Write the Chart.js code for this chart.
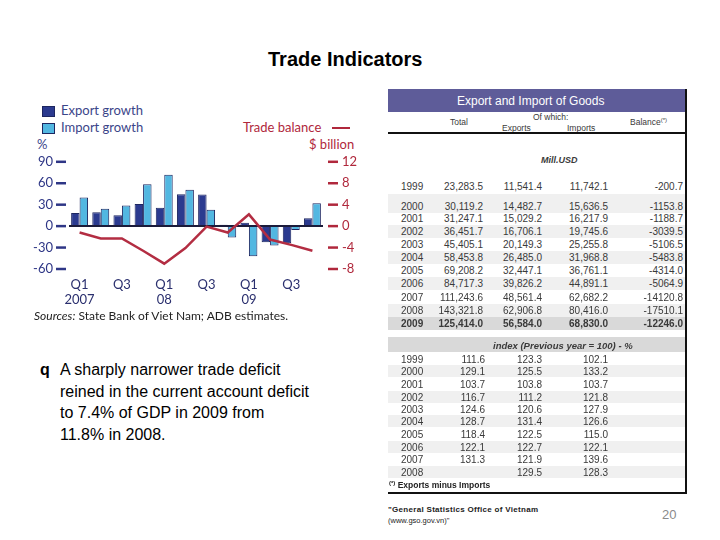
<!DOCTYPE html>
<html>
<head>
<meta charset="utf-8">
<script src="https://cdn.jsdelivr.net/npm/chart.js@4.4.0/dist/chart.umd.min.js"></script>
<style>
    body { margin: 0; background: #fff; }
    #page { position: relative; width: 720px; height: 540px; overflow: hidden; font-family: "Liberation Sans", Arial, sans-serif; }
    .abs { position: absolute; white-space: nowrap; }
    .lg { font-family: Lato, sans-serif; font-size: 13px; color: #3b4589; }
    .sq { position: absolute; width: 11px; height: 9px; border: 1px solid #1d2660; }
    #chartBox { position: absolute; left: 20px; top: 135px; width: 360px; height: 175px; }
    #tbl { position: absolute; left: 388px; top: 89px; width: 297px; height: 403px; border-right: 2px solid #111; border-bottom: 2px solid #111; font-size: 10px; color: #3a3a3a; }
    .cell { position: absolute; white-space: nowrap; transform: translateY(-50%); }
    .band { position: absolute; left: 0; width: 297px; }
</style>
</head>
<body>
<div id="page">
    <div class="abs" style="left:268px; top:48px; font-size:20px; font-weight:bold; color:#000;">Trade Indicators</div>

    <!-- légende du graphique -->
    <div class="sq" style="left:42px; top:106px; background:#2b3a8f;"></div>
    <div class="abs lg" style="left:61px; top:102px;">Export growth</div>
    <div class="sq" style="left:42px; top:123px; background:#52b7e1;"></div>
    <div class="abs lg" style="left:61px; top:119px;">Import growth</div>
    <div class="abs lg" style="left:243px; top:119px; color:#b0283c;">Trade balance</div>
    <div class="abs" style="left:332px; top:127px; width:18px; height:2px; background:#b0283c;"></div>
    <div class="abs lg" style="left:37px; top:136px;">%</div>
    <div class="abs lg" style="left:309px; top:136px; color:#b0283c;">$ billion</div>

    <div id="chartBox"><canvas id="tradeChart"></canvas></div>

    <div class="abs" style="left:34px; top:308px; font-family:Lato, sans-serif; font-size:12px; color:#222;"><i>Sources:</i> State Bank of Viet Nam; ADB estimates.</div>

    <div class="abs" style="left:40px; top:359px; font-size:16px; line-height:21.5px; color:#000;">
        <span style="position:absolute; left:0; top:0; font-weight:bold;">q</span>
        <div style="margin-left:20px;">A sharply narrower trade deficit<br>reined in the current account deficit<br>to 7.4% of GDP in 2009 from<br>11.8% in 2008.</div>
    </div>

    <div id="tbl"></div>

    <div class="abs" style="left:388px; top:505px; font-size:8px; font-weight:bold; color:#222; letter-spacing:0.3px;">"General Statistics Office of Vietnam</div>
    <div class="abs" style="left:388px; top:516px; font-size:7.5px; color:#222;">(www.gso.gov.vn)"</div>
    <div class="abs" style="left:662px; top:507px; font-size:13px; color:#8a8a8a;">20</div>
</div>

<script>
// Données du graphique (trimestres 2007-2009)
const quarters = [['Q1', '2007'], ['', ''], ['Q3', ''], ['', ''], ['Q1', '08'], ['', ''], ['Q3', ''], ['', ''], ['Q1', '09'], ['', ''], ['Q3', ''], ['', '']];
const exportGrowth = [18.4, 19.4, 15.2, 31, 25.8, 44.7, 44.2, 1.8, 4.6, -22.6, -24, 11];
const importGrowth = [40, 24.4, 29, 58.5, 72, 51, 23, -16, -42, -27, -5.5, 32];
const tradeBalance = [-1.2, -2.3, -2.3, -4.6, -7.0, -4.1, -0.1, -1.2, 2.2, -2.5, -3.5, -4.6];
const leftTicks = [-60, -30, 0, 30, 60, 90];
const rightTicks = [-8, -4, 0, 4, 8, 12];

// Données du tableau (Export and Import of Goods)
const tableYears = ['1999', '2000', '2001', '2002', '2003', '2004', '2005', '2006', '2007', '2008', '2009'];
const tableTotal = ['23,283.5', '30,119.2', '31,247.1', '36,451.7', '45,405.1', '58,453.8', '69,208.2', '84,717.3', '111,243.6', '143,321.8', '125,414.0'];
const tableExports = ['11,541.4', '14,482.7', '15,029.2', '16,706.1', '20,149.3', '26,485.0', '32,447.1', '39,826.2', '48,561.4', '62,906.8', '56,584.0'];
const tableImports = ['11,742.1', '15,636.5', '16,217.9', '19,745.6', '25,255.8', '31,968.8', '36,761.1', '44,891.1', '62,682.2', '80,416.0', '68,830.0'];
const tableBalance = ['-200.7', '-1153.8', '-1188.7', '-3039.5', '-5106.5', '-5483.8', '-4314.0', '-5064.9', '-14120.8', '-17510.1', '-12246.0'];
const indexYears = ['1999', '2000', '2001', '2002', '2003', '2004', '2005', '2006', '2007', '2008'];
const indexTotal = ['111.6', '129.1', '103.7', '116.7', '124.6', '128.7', '118.4', '122.1', '131.3', ''];
const indexExports = ['123.3', '125.5', '103.8', '111.2', '120.6', '131.4', '122.5', '122.7', '121.9', '129.5'];
const indexImports = ['102.1', '133.2', '103.7', '121.8', '127.9', '126.6', '115.0', '122.1', '139.6', '128.3'];

const navy = '#2e3686';
const red = '#b0283c';

// Petits traits à côté des graduations
const tickDashes = {
    id: 'tickDashes',
    afterDraw(chart) {
        const c = chart.ctx;
        const area = chart.chartArea;
        c.save();
        c.lineWidth = 2.5;
        c.strokeStyle = navy;
        leftTicks.forEach(v => {
            const y = chart.scales.y.getPixelForValue(v);
            c.beginPath(); c.moveTo(area.left - 13, y); c.lineTo(area.left - 3, y); c.stroke();
        });
        c.strokeStyle = red;
        rightTicks.forEach(v => {
            const y = chart.scales.y1.getPixelForValue(v);
            c.beginPath(); c.moveTo(area.right + 5, y); c.lineTo(area.right + 15, y); c.stroke();
        });
        c.restore();
    }
};

Chart.defaults.font.family = 'Lato, sans-serif';

const ctx = document.getElementById('tradeChart').getContext('2d');
new Chart(ctx, {
    type: 'bar',
    data: {
        labels: quarters,
        datasets: [
            {
                label: 'Trade balance',
                type: 'line',
                data: tradeBalance,
                yAxisID: 'y1',
                borderColor: '#b32d42',
                borderWidth: 2.5,
                pointRadius: 0,
                tension: 0,
                order: 0
            },
            {
                label: 'Export growth',
                data: exportGrowth,
                yAxisID: 'y',
                backgroundColor: '#2b3a8f',
                borderColor: '#1d2660',
                borderWidth: 1,
                categoryPercentage: 0.8,
                barPercentage: 1.0,
                order: 1
            },
            {
                label: 'Import growth',
                data: importGrowth,
                yAxisID: 'y',
                backgroundColor: '#52b7e1',
                borderColor: '#1d2660',
                borderWidth: 1,
                categoryPercentage: 0.8,
                barPercentage: 1.0,
                order: 1
            }
        ]
    },
    options: {
        responsive: true,
        maintainAspectRatio: false,
        animation: false,
        layout: { padding: { top: 0, left: 0, right: 0, bottom: 0 } },
        plugins: {
            legend: { display: false },
            tooltip: { enabled: false }
        },
        scales: {
            x: {
                grid: { display: false, drawTicks: false },
                border: { display: false },
                ticks: {
                    color: '#2a2f6e',
                    font: { size: 13, lineHeight: 1.15 },
                    padding: 8,
                    maxRotation: 0,
                    autoSkip: false
                },
                afterFit: s => { s.height = 41; }
            },
            y: {
                position: 'left',
                min: -60,
                max: 90,
                afterBuildTicks: s => { s.ticks = leftTicks.map(v => ({ value: v })); },
                grid: {
                    drawTicks: false,
                    color: c => (c.tick && c.tick.value === 0) ? '#1b1b3a' : 'rgba(0,0,0,0)',
                    lineWidth: 2
                },
                border: { display: false },
                ticks: { color: navy, font: { size: 13 }, padding: 16 },
                afterFit: s => { s.width = 49; }
            },
            y1: {
                position: 'right',
                min: -8,
                max: 12,
                afterBuildTicks: s => { s.ticks = rightTicks.map(v => ({ value: v })); },
                grid: { display: false, drawTicks: false },
                border: { display: false },
                ticks: { color: red, font: { size: 13 }, padding: 19 },
                afterFit: s => { s.width = 57; }
            }
        }
    },
    plugins: [tickDashes]
});

// Construction du tableau à droite
const tbl = document.getElementById('tbl');
function addEl(cls, style, text) {
    const d = document.createElement('div');
    d.className = cls;
    d.style.cssText = style;
    d.textContent = text;
    tbl.appendChild(d);
    return d;
}
function cellRight(rightX, y, text, extra) {
    addEl('cell', 'right:' + (297 - rightX) + 'px; top:' + y + 'px;' + (extra || ''), text);
}
function cellLeft(x, y, text, extra) {
    addEl('cell', 'left:' + x + 'px; top:' + y + 'px;' + (extra || ''), text);
}

// en-tête
addEl('band', 'top:0; height:23px; background:#5e5c99;', '');
cellLeft(69, 12, 'Export and Import of Goods', 'color:#fff; font-size:12px;');
cellLeft(62, 33, 'Total', 'font-size:8.5px;');
cellLeft(145, 28, 'Of which:', 'font-size:8.5px;');
cellLeft(114, 39, 'Exports', 'font-size:8.5px;');
cellLeft(179, 39, 'Imports', 'font-size:8.5px;');
addEl('cell', 'left:242px; top:33px; font-size:8.5px;', '').innerHTML = 'Balance<sup style="font-size:6px">(*)</sup>';
addEl('band', 'top:43px; height:2px; background:#111;', '');
cellLeft(153, 71, 'Mill.USD', 'font-size:9px; font-weight:bold; font-style:italic;');

// valeurs en millions USD
const rowY = [186, 206, 218, 231, 244, 257, 270, 283, 297, 310, 323];
tableYears.forEach((yr, i) => {
    const y = rowY[i] - 89;
    if (i === 10) addEl('band', 'top:' + (y - 6) + 'px; height:13px; background:#d9d9d9;', '');
    else if (i === 1) addEl('band', 'top:' + (y - 12) + 'px; height:19px; background:#f0f0f0;', '');
    else if (i % 2 === 1) addEl('band', 'top:' + (y - 6) + 'px; height:13px; background:#f0f0f0;', '');
    const w = i === 10 ? 'font-weight:bold;' : '';
    cellLeft(13, y, yr, w);
    cellRight(95, y, tableTotal[i], w);
    cellRight(154, y, tableExports[i], w);
    cellRight(220, y, tableImports[i], w);
    cellRight(295, y, tableBalance[i], w);
});

// indices
addEl('band', 'top:' + (337 - 89) + 'px; height:15px; background:#d9d9d9;', '');
cellLeft(105, 345 - 89, 'index (Previous year = 100) - %', 'font-style:italic; font-weight:bold; font-size:9.5px;');
const idxY = [359, 371, 384, 397, 409, 421, 434, 447, 459, 472];
indexYears.forEach((yr, i) => {
    const y = idxY[i] - 89;
    if (i % 2 === 1) addEl('band', 'top:' + (y - 6) + 'px; height:12px; background:#f0f0f0;', '');
    cellLeft(13, y, yr);
    cellRight(97, y, indexTotal[i]);
    cellRight(154, y, indexExports[i]);
    cellRight(220, y, indexImports[i]);
});
addEl('cell', 'left:1px; top:' + (485 - 89) + 'px; font-size:8.5px; font-weight:bold; color:#222;', '').innerHTML = '<sup style="font-size:6px">(*)</sup> Exports minus Imports';
</script>
</body>
</html>
